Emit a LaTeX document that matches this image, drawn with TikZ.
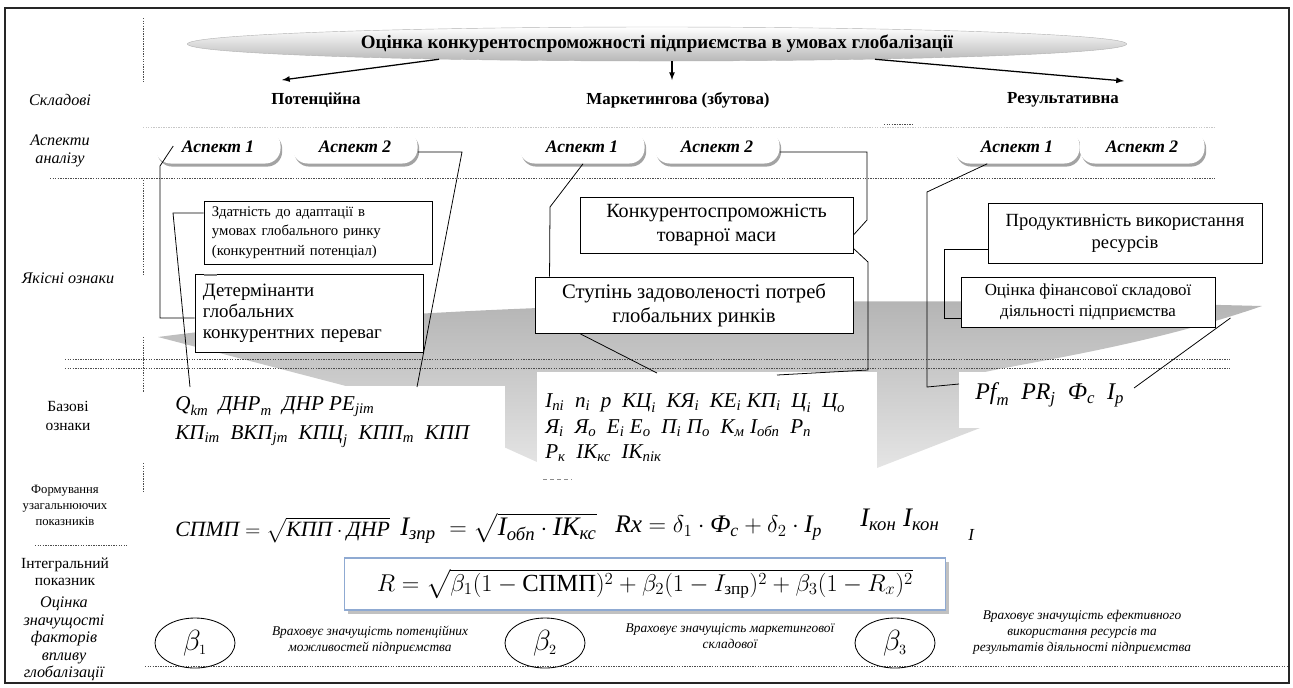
\documentclass[tikz,border=0pt]{standalone}
\usepackage{amsmath}
\usepackage{fontspec}
\setmainfont{Liberation Serif}
\usetikzlibrary{arrows,calc,shapes.geometric,shadows}
\definecolor{rframe}{RGB}{143,170,210}
\newcommand{\iv}[1]{\textit{#1}}
\newcommand{\fsz}[2]{\fontsize{#1}{#2}\selectfont}

\begin{document}
\begin{tikzpicture}[x=0.025cm,y=-0.025cm,
		>=latex,
		sepline/.style={black!70,line width=0.4pt,dash pattern=on 1pt off 0.8pt},
		faintline/.style={black!22,line width=0.4pt,dash pattern=on 1pt off 0.8pt},
		link/.style={black,line width=0.55pt},
		pointer/.style={->,black,line width=0.9pt},
		rowlabel/.style={font=\fsz{11.5}{12.5}\itshape,align=center},
		partlabel/.style={font=\fsz{12}{14}\bfseries},
		aspect/.style={fill=white,rounded corners=0.38cm,minimum width=3.125cm,
			minimum height=0.825cm,font=\fsz{12.5}{14}\bfseries\itshape,
			drop shadow={shadow xshift=1.2pt,shadow yshift=-2.2pt,fill=black!45,opacity=0.8}},
		txtbox/.style={draw,fill=white,line width=0.6pt,inner xsep=0.2cm,inner ysep=0pt},
		basefeat/.style={anchor=west,inner sep=0pt},
		weight/.style={draw,ellipse,line width=0.6pt,minimum width=2cm,
			minimum height=1.25cm,inner sep=0pt,font=\fsz{20}{22}},
		note/.style={font=\fsz{9.5}{11.5}\itshape,align=center}
	]
	\useasboundingbox (0,0) rectangle (1293,687);
	\draw[line width=1.1pt,black!85] (5,8) rectangle (1289,683);

	% grey arrow behind the qualitative row
	\shade[top color=black!30,bottom color=black!7]
		(158,337) .. controls (400,305) and (800,294) .. (1262,306)
		.. controls (1150,345) and (1030,362) .. (985,372)
		-- (980,428) -- (877,468) -- (705,498) -- (537,462) -- (506,448)
		-- (346,386) -- cycle;
	\fill[white] (190,386) rectangle (505,470);
	\fill[white] (537,372) rectangle (877,500);
	\fill[white] (959,372) rectangle (1245,428);

	% separators
	\draw[sepline] (143,18) -- (143,82);
	\draw[faintline] (143,127) -- (1215,127);
	\draw[sepline] (884,124) -- (913,124);
	\draw[sepline] (50,178) -- (1215,178);
	\draw[sepline] (143,180) -- (143,275);
	\draw[sepline] (143,337) -- (143,392);
	\draw[sepline] (143,463) -- (143,493);
	\draw[sepline] (65,359) -- (1230,359);
	\draw[sepline] (65,368) -- (1230,368);
	\draw[sepline] (35,545) -- (127,545);
	\draw[sepline] (145,666) -- (1288,666);

	% title and components
	\node[ellipse,minimum width=23.475cm,minimum height=0.85cm,inner sep=0pt,
		top color=white,bottom color=black!28,draw=black!30,line width=0.3pt,
		font=\fsz{13.5}{16}\bfseries] (ttl) at (657,44)
		{Оцінка конкурентоспроможності підприємства в умовах глобалізації};
	\coordinate (ptip) at (282,80);
	\coordinate (mtip) at (672,80);
	\coordinate (rtip) at (1124,81);
	\draw[pointer] (ttl.184.1) -- (ptip);
	\draw[pointer] (ttl.south -| mtip) -- (mtip);
	\draw[pointer] (ttl.-4.5) -- (rtip);

	\node[rowlabel] (lcomp) at (60,100) {Складові};
	\node[partlabel] (pot) at (316,100) {Потенційна};
	\node[partlabel] (mark) at (678,100) {Маркетингова (збутова)};
	\node[partlabel] (res) at (1063,100) {Результативна};

	% row labels
	\node[rowlabel] (lasp) at (60,151) {Аспекти\\аналізу};
	\node[rowlabel] (lqual) at (68,278) {Якісні ознаки};
	\node[font=\fsz{11}{14},align=center] (lbase) at (68,416) {Базові\\ознаки};
	\node[font=\fsz{9}{11.4},align=center] (lform) at (65,505)
		{Формування\\узагальнюючих\\показників};
	\node[font=\fsz{11}{12},align=center] (lint) at (65,572)
		{Інтегральний\\показник};
	\node[font=\fsz{11.5}{12.5}\itshape,align=center] (lweight) at (64,639)
		{Оцінка\\значущості\\факторів\\впливу\\глобалізації};

	% aspects
	\node[aspect] (asp1) at (218,147) {Аспект 1};
	\node[aspect] (asp2) at (355,147) {Аспект 2};
	\node[aspect] (asp3) at (582,147) {Аспект 1};
	\node[aspect] (asp4) at (717,147) {Аспект 2};
	\node[aspect] (asp5) at (1017,147) {Аспект 1};
	\node[aspect] (asp6) at (1142,147) {Аспект 2};

	% qualitative features
	\node[txtbox,text width=5.3cm,minimum height=1.575cm,align=left,
		font=\fsz{10.5}{14}] (adapt) at (318,232.5)
		{Здатність до адаптації в\\умовах глобального ринку\\(конкурентний потенціал)};
	\node[txtbox,text width=5.3cm,minimum height=1.95cm,align=left,
		font=\fsz{13.4}{15}] (determ) at (309,313)
		{Детермінанти\\глобальних\\конкурентних переваг};
	\draw[black!50,line width=1.5pt] (204,275) -- (217,275);
	\node[txtbox,minimum width=6.825cm,minimum height=1.4cm,align=center,
		font=\fsz{14.3}{17}] (goods) at (716.5,225)
		{Конкурентоспроможність\\товарної маси};
	\node[txtbox,minimum width=7.95cm,minimum height=1.4cm,align=center,
		font=\fsz{14.7}{17}] (needs) at (694,305)
		{Ступінь задоволеності потреб\\глобальних ринків};
	\node[txtbox,minimum width=6.85cm,minimum height=1.5cm,align=center,
		font=\fsz{13.2}{15.5}] (product) at (1125,233)
		{Продуктивність використання\\ресурсів};
	\node[txtbox,minimum width=6.35cm,minimum height=1.25cm,align=center,
		font=\fsz{12}{15}] (finance) at (1088,302)
		{Оцінка фінансової складової\\діяльності підприємства};

	% basic features
	\node[basefeat,font=\fsz{15}{18}] (baseL1) at (175,407)
		{$\iv{Q}_{\iv{km}}\ \ \iv{ДНР}_{\iv{m}}\ \ \iv{ДНР}\ \iv{РЕ}_{\iv{jim}}$};
	\node[basefeat,font=\fsz{15}{18}] (baseL2) at (175,437)
		{$\iv{КП}_{\iv{im}}\ \ \iv{ВКП}_{\iv{jm}}\ \ \iv{КПЦ}_{\iv{j}}\ \ \iv{КПП}_{\iv{m}}\ \ \iv{КПП}$};
	\node[basefeat,font=\fsz{15}{18}] (baseM1) at (545,403)
		{$\iv{I}_{\iv{пі}}\ \ \iv{n}_{\iv{i}}\ \ \iv{p}\ \ \iv{КЦ}_{\iv{i}}\ \ \iv{КЯ}_{\iv{i}}\ \ \iv{КЕ}_{\iv{i}}\ \iv{КП}_{\iv{i}}\ \ \iv{Ц}_{\iv{i}}\ \ \iv{Ц}_{\iv{о}}$};
	\node[basefeat,font=\fsz{15}{18}] (baseM2) at (545,428)
		{$\iv{Я}_{\iv{i}}\ \ \iv{Я}_{\iv{о}}\ \ \iv{Е}_{\iv{i}}\ \iv{Е}_{\iv{о}}\ \ \iv{П}_{\iv{i}}\ \iv{П}_{\iv{о}}\ \ \iv{К}_{\iv{м}}\ \iv{I}_{\iv{обп}}\ \ \iv{Р}_{\iv{п}}$};
	\node[basefeat,font=\fsz{15}{18}] (baseM3) at (545,453)
		{$\iv{Р}_{\iv{к}}\ \ \iv{IK}_{\iv{кс}}\ \ \iv{IK}_{\iv{пік}}$};
	\draw[black!45,dash pattern=on 3pt off 2pt] (543,479) -- (572,479);
	\node[basefeat,font=\fsz{17}{20}] (baseR) at (975,395)
		{$\iv{Pf}_{\iv{m}}\ \ \iv{PR}_{\iv{j}}\ \ \iv{Ф}_{\iv{c}}\ \ \iv{I}_{\iv{p}}$};

	% connectors
	\coordinate (qL) at (190,387);
	\coordinate (kppR) at (417,387);
	\coordinate (midL) at (657,373);
	\coordinate (midR) at (777,375);
	\coordinate (pfL) at (959,384);
	\coordinate (pfR) at (1134,388);
	\draw[link] ($(asp1.west)+(18,-1)$) -- (160,166) -- (160,318)
		-- ($(determ.west)+(0,5)$);
	\draw[link] ($(adapt.west)+(0,-19.5)$) -- (173,213) -- (qL);
	\draw[link] ($(asp2.east)+(0,5)$) -- (462,152) -- (kppR);
	\draw[link] ($(asp3.south)+(1,0)$) -- (550,207) -- ($(needs.north west)+(15,0)$);
	\draw[link] ($(asp4.east)+(0,5)$) -- (867,152) -- (867,220)
		-- ($(goods.east)+(0,10)$);
	\draw[link] ($(goods.south east)+(0,-5)$) -- (868,262) -- (868,370) -- (midR);
	\draw[link] ($(needs.south west)+(45,0)$) -- (midL);
	\draw[link] ($(asp5.south west)+(33,0)$) -- (927,192) -- (927,387) -- (pfL);
	\draw[link] ($(product.west)+(0,16)$) -- (944,249) -- (944,318)
		-- ($(finance.west)+(0,16)$);
	\draw[link] ($(finance.east)+(15,16)$) -- (pfR);

	% generalised indicators
	\node[basefeat,font=\fsz{15.5}{18}] (fspmp) at (175,530)
		{$\iv{СПМП}=\sqrt{\iv{КПП}\cdot\iv{ДНР}}$};
	\node[basefeat,font=\fsz{19}{22}] (fznp) at (400,528)
		{$\iv{I}_{\iv{зпр}}\ =\sqrt{\iv{I}_{\iv{обп}}\cdot\iv{IK}_{\iv{кс}}}$};
	\node[basefeat,font=\fsz{18}{21}] (frx) at (615,528)
		{$\iv{Rx}=\delta_1\cdot\iv{Ф}_{\iv{c}}+\delta_2\cdot\iv{I}_{\iv{p}}$};
	\node[basefeat,font=\fsz{19}{22}] (fkon) at (860,520)
		{$\iv{I}_{\iv{кон}}\ \iv{I}_{\iv{кон}}$};
	\node[basefeat,font=\fsz{12}{14}] (fi) at (968,535) {$\iv{I}$};

	% integral indicator
	\node[draw=rframe,fill=white,line width=0.8pt,minimum width=15cm,
		minimum height=1.3cm,font=\fsz{17.5}{20},
		drop shadow={shadow xshift=2.5pt,shadow yshift=-2.5pt,fill=black!35,opacity=0.7}]
		(integ) at (645,584)
		{$R=\sqrt{\beta_1(1-\text{СПМП})^2+\beta_2(1-I_{\text{зпр}})^2+\beta_3(1-R_x)^2}$};

	% weights
	\node[weight] (w1) at (195,643) {$\beta_{\scriptscriptstyle 1}$};
	\node[weight] (w2) at (545,643) {$\beta_{\scriptscriptstyle 2}$};
	\node[weight] (w3) at (895,643) {$\beta_{\scriptscriptstyle 3}$};
	\node[note] (n1) at (370,640)
		{Враховує значущість потенційних\\можливостей підприємства};
	\node[note] (n2) at (730,636)
		{Враховує значущість маркетингової\\складової};
	\node[note] (n3) at (1082,632)
		{Враховує значущість ефективного\\використання ресурсів та\\результатів діяльності підприємства};
\end{tikzpicture}
\end{document}
